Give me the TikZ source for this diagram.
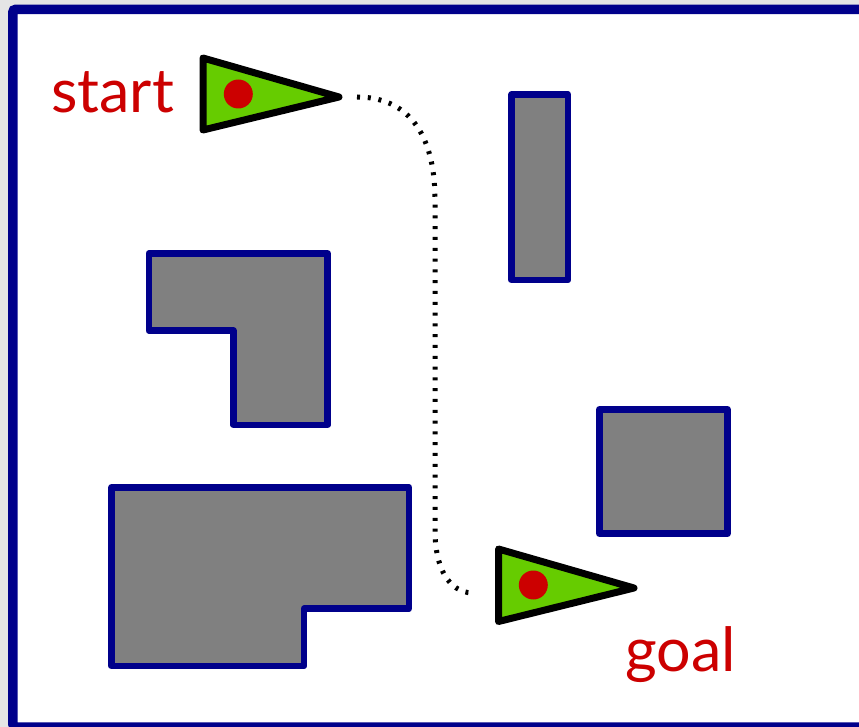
\documentclass[tikz,border=0pt]{standalone}
\usepackage{fontspec}
\setmainfont{Lato}
\definecolor{framenavy}{RGB}{0,0,139}
\definecolor{obsgray}{RGB}{128,128,128}
\definecolor{robotgreen}{RGB}{102,204,0}
\definecolor{labelred}{RGB}{204,0,0}
\definecolor{bggray}{RGB}{229,229,229}
\tikzset{
  obstacle/.style={draw=framenavy, fill=obsgray, line width=6.5pt, line join=round},
  robot/.style={draw=black, fill=robotgreen, line width=7pt, line join=round},
  centre/.style={fill=labelred, draw=none},
  lbl/.style={text=labelred, font=\fontsize{61}{70}\selectfont, inner sep=0pt},
  pathline/.style={draw=black, line width=5pt, dash pattern=on 3pt off 7.8pt}
}
\begin{document}
\begin{tikzpicture}[x=1pt,y=-1pt]
\useasboundingbox (0,0) rectangle (859,727);
\clip (0,0) rectangle (859,727);
\fill[bggray] (0,0) rectangle (859,727);
\draw[draw=framenavy, fill=white, line width=9.5pt, rounded corners=3pt] (12.8,9.3) rectangle (870,727);
% obstacles
\draw[obstacle] (511.5,94.5) rectangle (568,280);
\draw[obstacle] (599.3,409.3) rectangle (727.5,533.7);
\draw[obstacle] (149,253.3) -- (327.7,253.3) -- (327.7,425) -- (233.3,425) -- (233.3,330.7) -- (149,330.7) -- cycle;
\draw[obstacle] (111.5,487.3) -- (409,487.3) -- (409,608.7) -- (304,608.7) -- (304,666) -- (111.5,666) -- cycle;
% robots
\draw[robot] (203,58) -- (339,97) -- (203,130) -- cycle;
\fill[centre] (238.3,94) circle (14.5pt);
\draw[robot] (498.5,549) -- (634,588) -- (498.5,621.5) -- cycle;
\fill[centre] (533.3,585) circle (14.5pt);
\coordinate (pstart) at (357,97);
\coordinate (pgoal) at (472,593);
% path
\draw[pathline] (pstart) .. controls (405,97) and (435,130) .. (435,200) -- (435,530) .. controls (435,570) and (450,592) .. (pgoal);
% labels
\node[lbl, anchor=base west] (startlbl) at (51,113) {start};
\node[lbl, anchor=base west] (goallbl) at (625,671) {goal};
\end{tikzpicture}
\end{document}
